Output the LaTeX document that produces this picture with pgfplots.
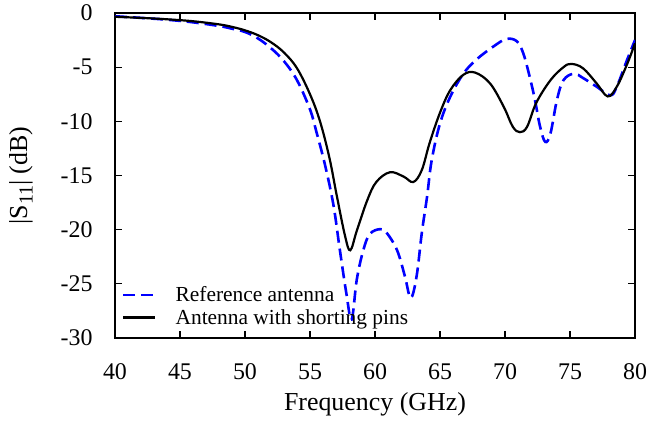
\documentclass[border=0pt]{standalone}
\usepackage{fontspec}
\setmainfont{Liberation Serif}
\usepackage{pgfplots}
\pgfplotsset{compat=1.18}

% measured S11 curves
\pgfplotstableread{
f s
40 -0.35
42 -0.45
44 -0.58
46 -0.76
48 -1.05
49 -1.28
50 -1.6
51 -2.05
52 -2.7
53 -3.65
54 -5.1
55 -7.5
55.77 -10.0
56.5 -13.4
57.05 -16.8
57.7 -20.6
58.1 -21.9
58.6 -20.1
59.4 -17.3
60.1 -15.6
61.15 -14.7
62.2 -15.1
62.95 -15.6
63.6 -14.5
64.2 -12.0
65 -9.2
65.8 -7.1
66.8 -5.7
67.7 -5.5
68.85 -6.5
69.9 -8.65
70.6 -10.5
71.15 -11.0
71.7 -10.5
72.4 -8.3
73.5 -6.2
74.5 -5.0
75.1 -4.7
76 -5.1
77.05 -6.5
77.9 -7.7
78.6 -6.8
79.4 -4.7
80 -2.8
}\pins

\pgfplotstableread{
f s
40 -0.3
42 -0.45
44 -0.62
46 -0.86
48 -1.2
49 -1.45
50 -1.75
51 -2.35
52 -3.25
53 -4.45
54 -6.2
55 -8.9
55.5 -11.0
56.15 -14.0
56.8 -17.7
57.3 -21.9
57.8 -25.9
58.2 -28.3
58.6 -24.6
59.1 -21.9
59.6 -20.4
60.4 -19.95
60.9 -20.3
61.7 -21.9
62.3 -24.3
62.75 -26.3
63.2 -24.3
63.6 -20.3
64 -17
64.36 -13.6
65 -10.2
65.8 -7.7
66.8 -5.6
67.8 -4.3
69.1 -3.1
70.1 -2.4
70.9 -2.6
71.4 -3.7
71.9 -5.9
72.3 -8.0
72.7 -10.5
73.1 -11.9
73.5 -11.1
74 -8
74.5 -6.2
75.3 -5.6
76 -6.0
77.05 -6.8
78.1 -7.6
78.6 -6.8
79.4 -4.3
80 -2.5
}\reference

\begin{document}
\begin{tikzpicture}
\useasboundingbox (-115bp,-83bp) rectangle (536bp,338bp);
\begin{axis}[
    scale only axis,
    width=520bp, height=325bp,
    xmin=40, xmax=80, ymin=-30, ymax=0,
    xtick={40,45,...,80},
    ytick={-30,-25,...,0},
    tick align=inside,
    major tick length=7bp,
    every tick/.style={black, line width=1.2bp},
    axis line style={line width=1.5bp},
    /pgf/number format/assume math mode=true,
    tick label style={font=\fontsize{24}{28}\selectfont},
    xticklabel style={yshift=-22bp},
    yticklabel style={xshift=-19bp},
    xlabel={Frequency (GHz)},
    ylabel={|S\raisebox{-0.45ex}{\fontsize{20}{20}\selectfont 11}| (dB)},
    label style={font=\fontsize{26}{30}\selectfont},
    xlabel style={yshift=-6bp},
    ylabel style={yshift=21bp},
    legend image code/.code={\draw[#1, line width=2.4bp] (0bp,0bp) -- (32bp,0bp);},
    legend style={draw=none, fill=none,
        font=\fontsize{21.5}{23}\selectfont,
        at={(axis description cs:0,0)}, anchor=south west,
        xshift=4bp, yshift=8bp,
        row sep=2bp,
        /tikz/every odd column/.append style={column sep=17bp},
        nodes={inner sep=2bp}},
    legend cell align=left,
]
\addplot[blue, line width=2.6bp, dash pattern=on 12bp off 6bp, smooth, tension=0.6] table[x=f, y=s] {\reference};
\addlegendentry{Reference antenna}
\addplot[black, line width=2.2bp, smooth, tension=0.6] table[x=f, y=s] {\pins};
\addlegendentry{Antenna with shorting pins}
\end{axis}
\end{tikzpicture}
\end{document}
